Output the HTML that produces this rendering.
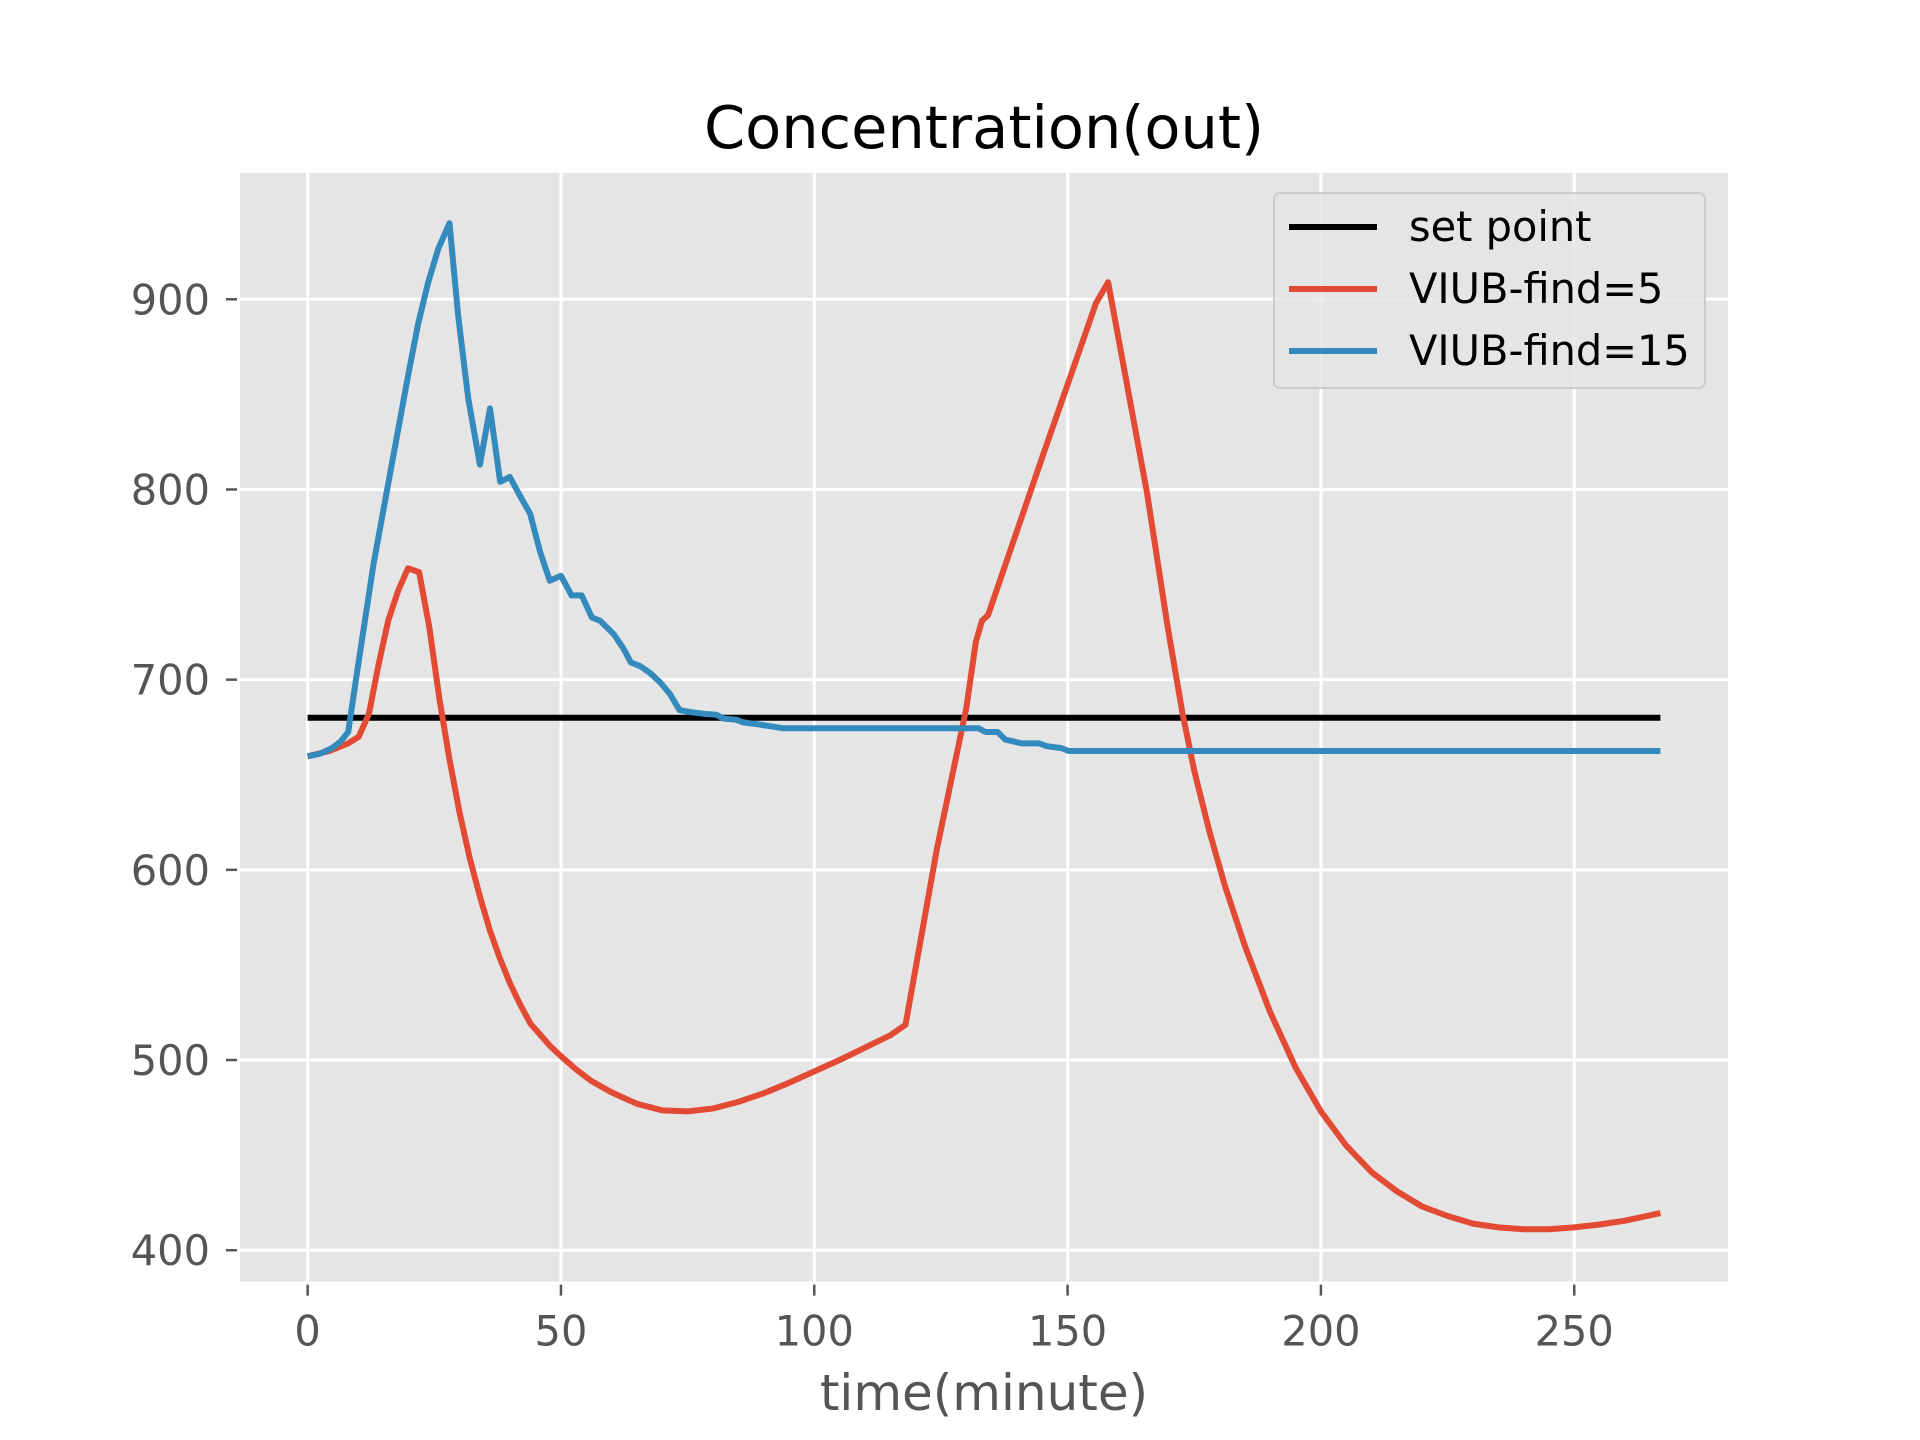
<!DOCTYPE html>
<html><head><meta charset="utf-8"><style>
html,body{margin:0;padding:0;background:#fff;}
svg{display:block;font-family:"DejaVu Sans","Liberation Sans",sans-serif;}
</style></head><body>
<svg id="chart" width="1920" height="1440" viewBox="0 0 1920 1440" xmlns="http://www.w3.org/2000/svg">
<rect width="1920" height="1440" fill="#fff"/>
<rect x="240" y="172.8" width="1488" height="1108.8" fill="#E5E5E5"/>
<g id="grid"></g>
<g id="ticks"></g>
<g id="series"></g>
<text x="984" y="148" font-size="59" text-anchor="middle" fill="#000">Concentration(out)</text>
<text x="984" y="1410" font-size="50" text-anchor="middle" fill="#555">time(minute)</text>
<g>
<rect x="1274" y="193" width="431" height="195" rx="6" fill="#E5E5E5" fill-opacity="0.8" stroke="#CCCCCC" stroke-width="2"/>
<line x1="1289" y1="227" x2="1377" y2="227" stroke="#000" stroke-width="6"/>
<text x="1409" y="241" font-size="41.5" fill="#000">set point</text>
<line x1="1289" y1="289" x2="1377" y2="289" stroke="#E24A33" stroke-width="6"/>
<text x="1409" y="303" font-size="41.5" fill="#000">VIUB-find=5</text>
<line x1="1289" y1="351" x2="1377" y2="351" stroke="#348ABD" stroke-width="6"/>
<text x="1409" y="365" font-size="41.5" fill="#000">VIUB-find=15</text>
</g>
</svg>
<script>
const xTicks = [0, 50, 100, 150, 200, 250];
const yTicks = [400, 500, 600, 700, 800, 900];
const setPointT = [0, 267];
const setPointV = [680, 680];
const redT = [0,4.3,8,10.1,12.1,14,15.9,17.9,19.8,22,24,26,28,30,32,34,36,38,40,42,44,46,48,50,53,56,60,65,70,75,80,85,90,95,100,105,110,115,118,124.2,130,131.9,133.1,134.3,145,155.6,158,165.7,169.8,172.7,175,178,181,185,190,195,200,205,210,215,220,225,230,235,240,245,250,255,260,267];
const redV = [659.7,662.5,666.5,670,682,708,731,747,758.5,756.5,728,690,658,630,606,586,568,553,540,529,519,513,507,502,495,489,483,477,473.5,473,474.5,478,482.5,488,494,500,506.5,513,518.5,611,685,720,731,734,817,898,909,798,727,682,652,620,592,560,525,496,473,455,441,431,423,418,414,412,411,411,412,413.5,415.5,419.5];
const blueT = [0,2.4,4.8,6.5,8,9.7,13,16.6,19.9,21.8,23.8,25.8,28,29.7,31.7,34,36,38,39.9,41.9,43.9,45.9,47.8,50,52.1,54.1,56.1,57.7,60.4,62.3,63.8,65.7,67.6,69.6,71.5,73.4,75.4,78.3,80.7,82.1,84.5,86,88.9,91.3,93.7,108,132.4,133.8,136.2,137.7,141,144.4,145.9,148.8,150.2,154.1,267];
const blueV = [659.7,661,664,667.5,672.5,703,760.7,813,861,887,909,926.6,940,891.7,848,813,842.6,804,806.6,796.7,787.3,767,752,754.6,744.3,744.3,732.7,731,724,716.5,709,707,703.5,698.5,692.5,684,683,682,681.5,679.5,679,677.5,676.5,675.5,674.5,674.5,674.5,672.5,672.5,668.5,666.5,666.5,665,664,662.5,662.5,662.5];

const X0 = -13.35, X1 = 280.35, Y0 = 383.5, Y1 = 966.5;
const L = 240, R = 1728, T = 172.8, B = 1281.6;
function sx(t){ return L + (t - X0) / (X1 - X0) * (R - L); }
function sy(v){ return B - (v - Y0) / (Y1 - Y0) * (B - T); }
const NS = "http://www.w3.org/2000/svg";
function mk(tag, attrs, parent){
  const e = document.createElementNS(NS, tag);
  for (const k in attrs) e.setAttribute(k, attrs[k]);
  parent.appendChild(e);
  return e;
}
const grid = document.getElementById('grid');
const ticks = document.getElementById('ticks');
xTicks.forEach(t => {
  const g = mk('line', {x1: sx(t), x2: sx(t), y1: T, y2: B, stroke: '#fff', 'stroke-width': 3}, grid);
  
  
  const tk = mk('line', {x1: sx(t), x2: sx(t), y1: B + 3, y2: B + 14, stroke: '#555', 'stroke-width': 2.5}, ticks);
  
  
  const lb = mk('text', {x: sx(t), y: B + 64, 'font-size': 41.5, 'text-anchor': 'middle', fill: '#555'}, ticks);
  lb.textContent = String(t);
  
  
});
yTicks.forEach(v => {
  const g = mk('line', {x1: L, x2: R, y1: sy(v), y2: sy(v), stroke: '#fff', 'stroke-width': 3}, grid);
  
  
  const tk = mk('line', {x1: L - 14, x2: L - 3, y1: sy(v), y2: sy(v), stroke: '#555', 'stroke-width': 2.5}, ticks);
  
  
  const lb = mk('text', {x: L - 30, y: sy(v) + 15, 'font-size': 41.5, 'text-anchor': 'end', fill: '#555'}, ticks);
  lb.textContent = String(v);
  
  
});
const series = document.getElementById('series');
function pts(ts, vs){ return ts.map((t, i) => sx(t).toFixed(1) + ',' + sy(vs[i]).toFixed(1)).join(' '); }
const sp = mk('polyline', {points: pts(setPointT, setPointV), fill: 'none', stroke: '#000', 'stroke-width': 6}, series);


const rl = mk('polyline', {points: pts(redT, redV), fill: 'none', stroke: '#E24A33', 'stroke-width': 6, 'stroke-linejoin': 'round'}, series);


const bl = mk('polyline', {points: pts(blueT, blueV), fill: 'none', stroke: '#348ABD', 'stroke-width': 6, 'stroke-linejoin': 'round'}, series);


</script>
</body></html>
